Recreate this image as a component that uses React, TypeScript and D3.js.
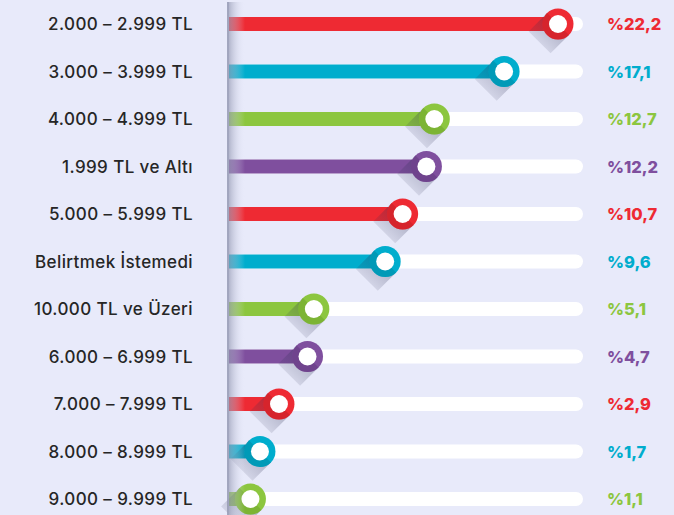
import React from "react";
import * as d3 from "d3";

const categories = [
  "2.000 – 2.999 TL",
  "3.000 – 3.999 TL",
  "4.000 – 4.999 TL",
  "1.999 TL ve Altı",
  "5.000 – 5.999 TL",
  "Belirtmek İstemedi",
  "10.000 TL ve Üzeri",
  "6.000 – 6.999 TL",
  "7.000 – 7.999 TL",
  "8.000 – 8.999 TL",
  "9.000 – 9.999 TL",
];
const values = [22.2, 17.1, 12.7, 12.2, 10.7, 9.6, 5.1, 4.7, 2.9, 1.7, 1.1];
const valueLabels = ["%22,2", "%17,1", "%12,7", "%12,2", "%10,7", "%9,6", "%5,1", "%4,7", "%2,9", "%1,7", "%1,1"];
const palette = ["#ee2a33", "#00adcd", "#8cc63f", "#7f4f9e"];
const darkPalette = ["#c21f27", "#008ba6", "#6fa52c", "#633a80"];

const W = 674;
const H = 515;

export default function App() {
  const barX0 = 229;
  const trackEnd = 583;
  const x = d3.scaleLinear().domain([0, 20.5]).range([233, 558]).clamp(true);
  const y = d3
    .scalePoint<number>()
    .domain(d3.range(categories.length))
    .range([24, 499]);
  const barH = 14;
  const rOuter = 15.5;
  const rInner = 9;
  const s = Math.SQRT1_2;
  const L = 26;

  return (
    <svg
      width={W}
      height={H}
      style={{ position: "absolute", left: 0, top: 0, display: "block" }}
    >
      <defs>
        <linearGradient id="divider" x1="0" x2="1" y1="0" y2="0">
          <stop offset="0" stopColor="#8a8ea8" stopOpacity="0.75" />
          <stop offset="0.25" stopColor="#a4a8c0" stopOpacity="0.55" />
          <stop offset="1" stopColor="#e8eafa" stopOpacity="0" />
        </linearGradient>
        <linearGradient id="longShadow" x1="0.7" y1="0.3" x2="0" y2="1">
          <stop offset="0" stopColor="#2a2d50" stopOpacity="0.3" />
          <stop offset="1" stopColor="#2a2d50" stopOpacity="0" />
        </linearGradient>
      </defs>
      <rect x={0} y={0} width={W} height={H} fill="#e8eafa" />

      {categories.map((cat, i) => {
        const cy = y(i)!;
        const cx = x(values[i]);
        const col = palette[i % 4];
        const dark = darkPalette[i % 4];
        const p1 = [cx + rOuter * s, cy + rOuter * s];
        const p2 = [cx - rOuter * s, cy - rOuter * s];
        const p3 = [p2[0] - L * s, p2[1] + L * s];
        const p4 = [p1[0] - L * s, p1[1] + L * s];
        const shadowPath = `M${p1[0]},${p1[1]}L${p2[0]},${p2[1]}L${p3[0]},${p3[1]}L${p4[0]},${p4[1]}Z`;
        const half = `M${p1[0]},${p1[1]}A${rOuter},${rOuter} 0 0 1 ${p2[0]},${p2[1]}Z`;
        return (
          <g key={cat}>
            <text
              x={193}
              y={cy}
              textAnchor="end"
              dominantBaseline="central"
              fontFamily="Inter, 'Noto Sans', sans-serif"
              fontWeight={500}
              fontSize={17}
              letterSpacing={0.4}
              fill="#262626"
            >
              {cat}
            </text>
            <rect
              x={barX0}
              y={cy - barH / 2}
              width={trackEnd - barX0}
              height={barH}
              rx={barH / 2}
              fill="#ffffff"
            />
            <rect x={barX0} y={cy - barH / 2} width={cx - barX0} height={barH} fill={col} />
            <path d={shadowPath} fill="url(#longShadow)" />
            <circle cx={cx} cy={cy} r={rOuter} fill={col} />
            <path d={half} fill={dark} opacity={0.55} />
            <circle cx={cx} cy={cy} r={rInner} fill="#ffffff" />
            <text
              x={607}
              y={cy}
              dominantBaseline="central"
              fontFamily="Inter, 'Noto Sans', sans-serif"
              fontWeight={800}
              fontSize={16.5}
              fill={col}
            >
              {valueLabels[i]}
            </text>
          </g>
        );
      })}
      <rect x={227} y={2} width={18} height={H} fill="url(#divider)" />
      <rect x={227.5} y={2} width={1.5} height={H} fill="#9ea2bb" opacity={0.8} />
    </svg>
  );
}
